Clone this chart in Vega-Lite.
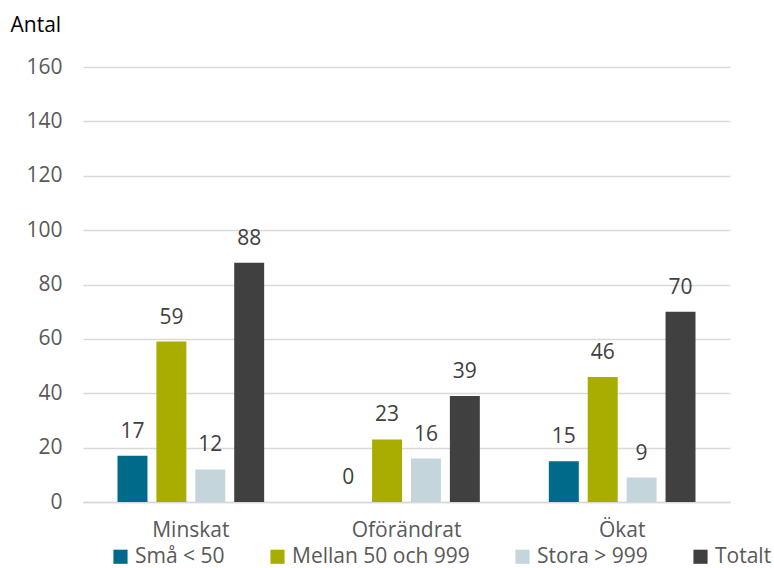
{
  "$schema": "https://vega.github.io/schema/vega-lite/v6.json",
  "width": 647,
  "height": 435,
  "autosize": "none",
  "padding": {"left": 83, "top": 67, "right": 44, "bottom": 66},
  "background": "white",
  "config": {
    "font": "Open Sans",
    "view": {"stroke": null}
  },
  "data": {
    "values": [
      {"kategori": "Minskat", "grupp": "Små < 50", "antal": 17},
      {"kategori": "Minskat", "grupp": "Mellan 50 och 999", "antal": 59},
      {"kategori": "Minskat", "grupp": "Stora > 999", "antal": 12},
      {"kategori": "Minskat", "grupp": "Totalt", "antal": 88},
      {"kategori": "Oförändrat", "grupp": "Små < 50", "antal": 0},
      {"kategori": "Oförändrat", "grupp": "Mellan 50 och 999", "antal": 23},
      {"kategori": "Oförändrat", "grupp": "Stora > 999", "antal": 16},
      {"kategori": "Oförändrat", "grupp": "Totalt", "antal": 39},
      {"kategori": "Ökat", "grupp": "Små < 50", "antal": 15},
      {"kategori": "Ökat", "grupp": "Mellan 50 och 999", "antal": 46},
      {"kategori": "Ökat", "grupp": "Stora > 999", "antal": 9},
      {"kategori": "Ökat", "grupp": "Totalt", "antal": 70}
    ]
  },
  "encoding": {
    "x": {
      "field": "kategori", "type": "nominal", "sort": ["Minskat", "Oförändrat", "Ökat"],
      "scale": {"paddingInner": 0.32, "paddingOuter": 0.16},
      "axis": {
        "title": null, "labelAngle": 0, "ticks": false, "domainColor": "#D9D9D9", "domainWidth": 1.5,
        "labelFontSize": 21, "labelColor": "#595959", "labelPadding": 17
      }
    },
    "xOffset": {
      "field": "grupp", "type": "nominal",
      "sort": ["Små < 50", "Mellan 50 och 999", "Stora > 999", "Totalt"],
      "scale": {"paddingInner": 0.23, "paddingOuter": 0}
    },
    "y": {
      "field": "antal", "type": "quantitative",
      "scale": {"domain": [0, 160]},
      "axis": {
        "values": [0, 20, 40, 60, 80, 100, 120, 140, 160],
        "domain": false, "ticks": false, "gridColor": "#D9D9D9", "gridWidth": 1.5,
        "labelFontSize": 21, "labelColor": "#595959", "labelPadding": 21,
        "title": "Antal", "titleAngle": 0, "titleAlign": "left", "titleBaseline": "middle",
        "titleX": -73, "titleY": -42, "titleFontSize": 21, "titleFontWeight": "normal", "titleColor": "#000000"
      }
    }
  },
  "layer": [
    {
      "mark": {"type": "bar"},
      "encoding": {
        "color": {
          "field": "grupp", "type": "nominal",
          "sort": ["Små < 50", "Mellan 50 och 999", "Stora > 999", "Totalt"],
          "scale": {
            "domain": ["Små < 50", "Mellan 50 och 999", "Stora > 999", "Totalt"],
            "range": ["#006A8B", "#A8AD00", "#C4D6DC", "#404040"]
          },
          "legend": {
            "title": null, "orient": "none", "direction": "horizontal", "columns": 4,
            "legendX": 27, "legendY": 479,
            "symbolType": "square", "symbolSize": 200, "symbolStrokeWidth": 0,
            "labelFontSize": 21, "labelColor": "#595959", "labelOffset": 4, "labelLimit": 400,
            "columnPadding": 42
          }
        }
      }
    },
    {
      "mark": {"type": "text", "baseline": "alphabetic", "dy": -18, "fontSize": 21, "color": "#404040"},
      "encoding": {
        "text": {"field": "antal", "type": "quantitative"}
      }
    }
  ]
}
